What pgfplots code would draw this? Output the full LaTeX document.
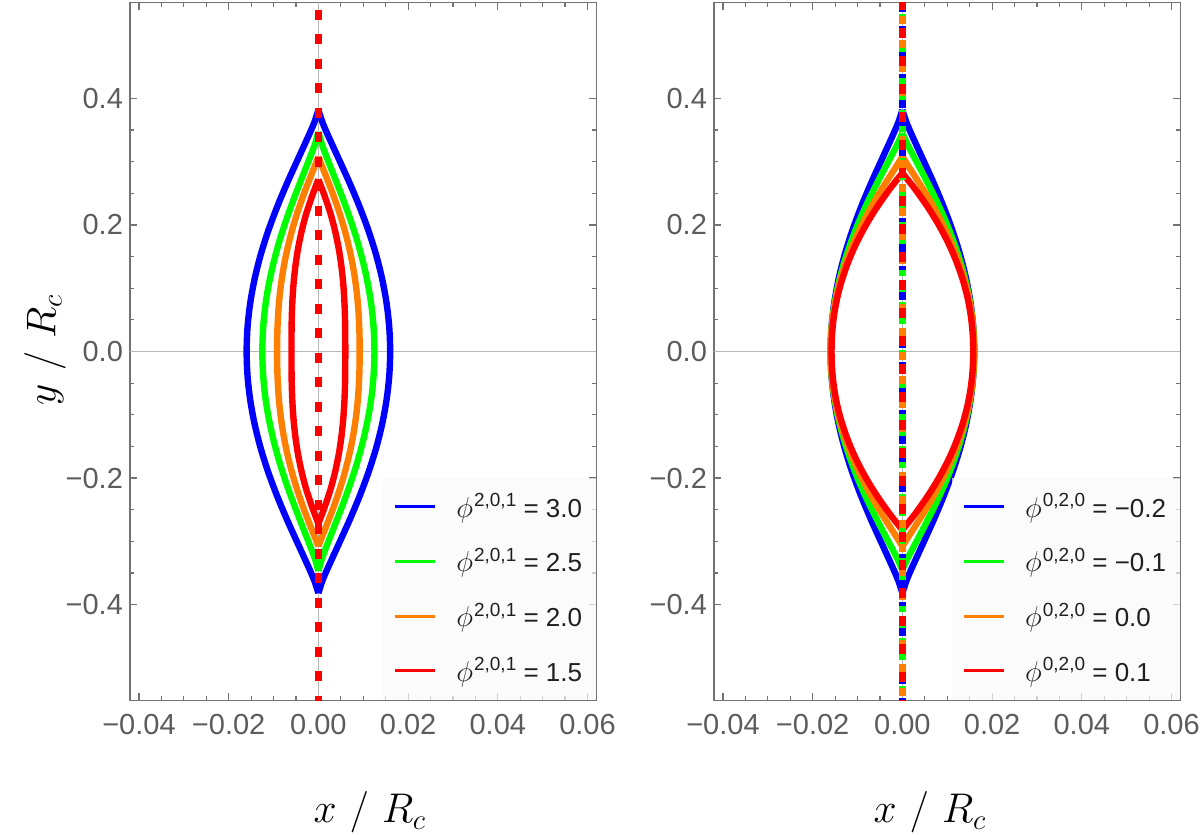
\documentclass[border=0pt]{standalone}
\usepackage{pgfplots}
\usepackage{pgfplotstable}
\pgfplotsset{compat=1.18}
\usepackage{fontspec}
\setmainfont{Liberation Sans}

\definecolor{cblue}{rgb}{0,0,1}
\definecolor{cgreen}{rgb}{0,1,0}
\definecolor{corange}{rgb}{1,0.5,0}
\definecolor{cred}{rgb}{1,0,0}
\definecolor{framegray}{gray}{0.45}
\definecolor{ticktext}{gray}{0.36}
\definecolor{axisgray}{gray}{0.72}
\definecolor{legendtext}{gray}{0.12}

% legend label: phi with a superscript index triple
\newcommand{\phix}[1]{{\fontsize{15.5}{16}\selectfont$\phi$}\kern0.5pt\raisebox{5.2pt}{\fontsize{9.5}{10}\selectfont #1}}

% half-width of each contour: columns y, right branch x, left branch x
\pgfplotstableread{
y xr xl
0.382 0 0
0.3629 0.00087 -0.00087
0.3438 0.00201 -0.00201
0.3056 0.00446 -0.00446
0.2674 0.00690 -0.00690
0.2292 0.00916 -0.00916
0.1910 0.01117 -0.01117
0.1528 0.01287 -0.01287
0.1146 0.01422 -0.01422
0.0764 0.01520 -0.01520
0.0382 0.01580 -0.01580
0 0.01600 -0.01600
-0.0382 0.01580 -0.01580
-0.0764 0.01520 -0.01520
-0.1146 0.01422 -0.01422
-0.1528 0.01287 -0.01287
-0.1910 0.01117 -0.01117
-0.2292 0.00916 -0.00916
-0.2674 0.00690 -0.00690
-0.3056 0.00446 -0.00446
-0.3438 0.00201 -0.00201
-0.3629 0.00087 -0.00087
-0.382 0 0
}\blueC

\pgfplotstableread{
y xr xl
0.347 0 0
0.3297 0.00068 -0.00068
0.3123 0.00157 -0.00157
0.2776 0.00349 -0.00349
0.2429 0.00539 -0.00539
0.2082 0.00716 -0.00716
0.1735 0.00873 -0.00873
0.1388 0.01005 -0.01005
0.1041 0.01111 -0.01111
0.0694 0.01188 -0.01188
0.0347 0.01234 -0.01234
0 0.01250 -0.01250
-0.0347 0.01234 -0.01234
-0.0694 0.01188 -0.01188
-0.1041 0.01111 -0.01111
-0.1388 0.01005 -0.01005
-0.1735 0.00873 -0.00873
-0.2082 0.00716 -0.00716
-0.2429 0.00539 -0.00539
-0.2776 0.00349 -0.00349
-0.3123 0.00157 -0.00157
-0.3297 0.00068 -0.00068
-0.347 0 0
}\greenL

\pgfplotstableread{
y xr xl
0.308 0 0
0.2926 0.00082 -0.00082
0.2772 0.00170 -0.00170
0.2464 0.00337 -0.00337
0.2156 0.00486 -0.00486
0.1848 0.00613 -0.00613
0.1540 0.00717 -0.00717
0.1232 0.00798 -0.00798
0.0924 0.00857 -0.00857
0.0616 0.00895 -0.00895
0.0308 0.00915 -0.00915
0 0.00920 -0.00920
-0.0308 0.00915 -0.00915
-0.0616 0.00895 -0.00895
-0.0924 0.00857 -0.00857
-0.1232 0.00798 -0.00798
-0.1540 0.00717 -0.00717
-0.1848 0.00613 -0.00613
-0.2156 0.00486 -0.00486
-0.2464 0.00337 -0.00337
-0.2772 0.00170 -0.00170
-0.2926 0.00082 -0.00082
-0.308 0 0
}\orangeL

\pgfplotstableread{
y xr xl
0.272 0 0
0.2584 0.00074 -0.00074
0.2448 0.00145 -0.00145
0.2176 0.00272 -0.00272
0.1904 0.00373 -0.00373
0.1632 0.00452 -0.00452
0.1360 0.00511 -0.00511
0.1088 0.00552 -0.00552
0.0816 0.00578 -0.00578
0.0544 0.00593 -0.00593
0.0272 0.00599 -0.00599
0 0.00600 -0.00600
-0.0272 0.00599 -0.00599
-0.0544 0.00593 -0.00593
-0.0816 0.00578 -0.00578
-0.1088 0.00552 -0.00552
-0.1360 0.00511 -0.00511
-0.1632 0.00452 -0.00452
-0.1904 0.00373 -0.00373
-0.2176 0.00272 -0.00272
-0.2448 0.00145 -0.00145
-0.2584 0.00074 -0.00074
-0.272 0 0
}\redL

\pgfplotstableread{
y xr xl
0.345 0 0
0.3278 0.00110 -0.00110
0.3105 0.00237 -0.00237
0.2760 0.00494 -0.00494
0.2415 0.00738 -0.00738
0.2070 0.00958 -0.00958
0.1725 0.01149 -0.01149
0.1380 0.01309 -0.01309
0.1035 0.01436 -0.01436
0.0690 0.01527 -0.01527
0.0345 0.01582 -0.01582
0 0.01600 -0.01600
-0.0345 0.01582 -0.01582
-0.0690 0.01527 -0.01527
-0.1035 0.01436 -0.01436
-0.1380 0.01309 -0.01309
-0.1725 0.01149 -0.01149
-0.2070 0.00958 -0.00958
-0.2415 0.00738 -0.00738
-0.2760 0.00494 -0.00494
-0.3105 0.00237 -0.00237
-0.3278 0.00110 -0.00110
-0.345 0 0
}\greenR

\pgfplotstableread{
y xr xl
0.308 0 0
0.2926 0.00136 -0.00136
0.2772 0.00277 -0.00277
0.2464 0.00548 -0.00548
0.2156 0.00793 -0.00793
0.1848 0.01008 -0.01008
0.1540 0.01190 -0.01190
0.1232 0.01340 -0.01340
0.0924 0.01455 -0.01455
0.0616 0.01537 -0.01537
0.0308 0.01585 -0.01585
0 0.01600 -0.01600
-0.0308 0.01585 -0.01585
-0.0616 0.01537 -0.01537
-0.0924 0.01455 -0.01455
-0.1232 0.01340 -0.01340
-0.1540 0.01190 -0.01190
-0.1848 0.01008 -0.01008
-0.2156 0.00793 -0.00793
-0.2464 0.00548 -0.00548
-0.2772 0.00277 -0.00277
-0.2926 0.00136 -0.00136
-0.308 0 0
}\orangeR

\pgfplotstableread{
y xr xl
0.282 0 0
0.2679 0.00161 -0.00161
0.2538 0.00314 -0.00314
0.2256 0.00591 -0.00591
0.1974 0.00833 -0.00833
0.1692 0.01040 -0.01040
0.1410 0.01211 -0.01211
0.1128 0.01349 -0.01349
0.0846 0.01454 -0.01454
0.0564 0.01526 -0.01526
0.0282 0.01567 -0.01567
0 0.01580 -0.01580
-0.0282 0.01567 -0.01567
-0.0564 0.01526 -0.01526
-0.0846 0.01454 -0.01454
-0.1128 0.01349 -0.01349
-0.1410 0.01211 -0.01211
-0.1692 0.01040 -0.01040
-0.1974 0.00833 -0.00833
-0.2256 0.00591 -0.00591
-0.2538 0.00314 -0.00314
-0.2679 0.00161 -0.00161
-0.282 0 0
}\redR

\pgfplotsset{
  panel/.style={
    scale only axis, width=233.25pt, height=349.2pt,
    xmin=-0.042, xmax=0.062, ymin=-0.552, ymax=0.552,
    scaled x ticks=false, scaled y ticks=false,
    xtick={-0.04,-0.02,0,0.02,0.04,0.06},
    xticklabels={−0.04,−0.02,0.00,0.02,0.04,0.06},
    ytick={-0.4,-0.2,0,0.2,0.4},
    yticklabels={−0.4,−0.2,0.0,0.2,0.4},
    minor x tick num=3, minor y tick num=3,
    tick align=inside, tick pos=both,
    major tick length=3.6pt, minor tick length=2.2pt,
    tick style={framegray, line width=0.6pt},
    axis line style={framegray, line width=0.8pt},
    tick label style={font=\fontsize{14.5}{17}\selectfont, text=ticktext},
    xticklabel style={yshift=-3.3pt},
    label style={font=\fontsize{22}{26}\selectfont},
    xlabel style={anchor=center},
    legend cell align=left,
    legend style={at={(1,0)}, anchor=south east, fill=black!2,
      fill opacity=0.7, text opacity=1, draw=none,
      inner xsep=5pt, inner ysep=6pt, row sep=10pt,
      font=\fontsize{13}{15}\selectfont, text=legendtext,
      /tikz/every odd column/.append style={column sep=8pt}},
    legend image code/.code={\draw[##1, line width=1.5pt] plot coordinates {(0pt,0pt) (20pt,0pt)};},
  },
  curve/.style={line width=3.2pt, smooth, tension=0.5},
  zeroline/.style={axisgray, line width=0.7pt, forget plot},
  string/.style={line width=3.2pt, forget plot},
}

\begin{document}
\begin{tikzpicture}
\useasboundingbox (0,0) rectangle (600pt,417.5pt);

% left panel: phi^{2,0,1} series
\begin{axis}[panel, at={(65pt,67.15pt)},
  xlabel={$x\hspace{0.3em}/\hspace{0.3em}R_c$},
  xlabel style={at={(axis description cs:0.514,-0.16)}},
  ylabel={$y\hspace{0.3em}/\hspace{0.3em}R_c$},
  ylabel style={at={(axis description cs:-0.182,0.502)}, anchor=center, rotate=0},
]
\addplot[zeroline] coordinates {(-0.042,0) (0.062,0)};
\addplot[zeroline] coordinates {(0,-0.552) (0,0.552)};

\addplot[curve, cblue] table[x=xr, y=y] {\blueC};
\addlegendentry{\phix{2,0,1} = 3.0}
\addplot[curve, cblue, forget plot] table[x=xl, y=y] {\blueC};
\addplot[curve, cgreen] table[x=xr, y=y] {\greenL};
\addlegendentry{\phix{2,0,1} = 2.5}
\addplot[curve, cgreen, forget plot] table[x=xl, y=y] {\greenL};
\addplot[curve, corange] table[x=xr, y=y] {\orangeL};
\addlegendentry{\phix{2,0,1} = 2.0}
\addplot[curve, corange, forget plot] table[x=xl, y=y] {\orangeL};
\addplot[curve, cred] table[x=xr, y=y] {\redL};
\addlegendentry{\phix{2,0,1} = 1.5}
\addplot[curve, cred, forget plot] table[x=xl, y=y] {\redL};

% the x = 0 string, one dashed line per parameter value
\addplot[string, cblue, dash pattern=on 5pt off 7.25pt, dash phase=8.65pt] coordinates {(0,0.552) (0,-0.552)};
\addplot[string, cgreen, dash pattern=on 5pt off 7.25pt, dash phase=8.65pt] coordinates {(0,0.552) (0,-0.552)};
\addplot[string, corange, dash pattern=on 5pt off 7.25pt, dash phase=8.65pt] coordinates {(0,0.552) (0,-0.552)};
\addplot[string, cred, dash pattern=on 5pt off 7.25pt, dash phase=8.65pt] coordinates {(0,0.552) (0,-0.552)};
\end{axis}

% right panel: phi^{0,2,0} series
\begin{axis}[panel, at={(357pt,67.15pt)},
  xlabel={$x\hspace{0.3em}/\hspace{0.3em}R_c$},
  xlabel style={at={(axis description cs:0.463,-0.16)}},
]
\addplot[zeroline] coordinates {(-0.042,0) (0.062,0)};
\addplot[zeroline] coordinates {(0,-0.552) (0,0.552)};

\addplot[curve, cblue] table[x=xr, y=y] {\blueC};
\addlegendentry{\phix{0,2,0} = −0.2}
\addplot[curve, cblue, forget plot] table[x=xl, y=y] {\blueC};
\addplot[curve, cgreen] table[x=xr, y=y] {\greenR};
\addlegendentry{\phix{0,2,0} = −0.1}
\addplot[curve, cgreen, forget plot] table[x=xl, y=y] {\greenR};
\addplot[curve, corange] table[x=xr, y=y] {\orangeR};
\addlegendentry{\phix{0,2,0} = 0.0}
\addplot[curve, corange, forget plot] table[x=xl, y=y] {\orangeR};
\addplot[curve, cred] table[x=xr, y=y] {\redR};
\addlegendentry{\phix{0,2,0} = 0.1}
\addplot[curve, cred, forget plot] table[x=xl, y=y] {\redR};

\addplot[string, cblue, dash pattern=on 5pt off 7pt] coordinates {(0,0.552) (0,-0.552)};
\addplot[string, cgreen, dash pattern=on 3pt off 5pt, dash phase=2pt] coordinates {(0,0.552) (0,-0.552)};
\addplot[string, corange, dash pattern=on 4pt off 8pt, dash phase=5pt] coordinates {(0,0.552) (0,-0.552)};
\addplot[string, cred, dash pattern=on 5pt off 9pt, dash phase=1pt] coordinates {(0,0.552) (0,-0.552)};
\end{axis}
\end{tikzpicture}
\end{document}
